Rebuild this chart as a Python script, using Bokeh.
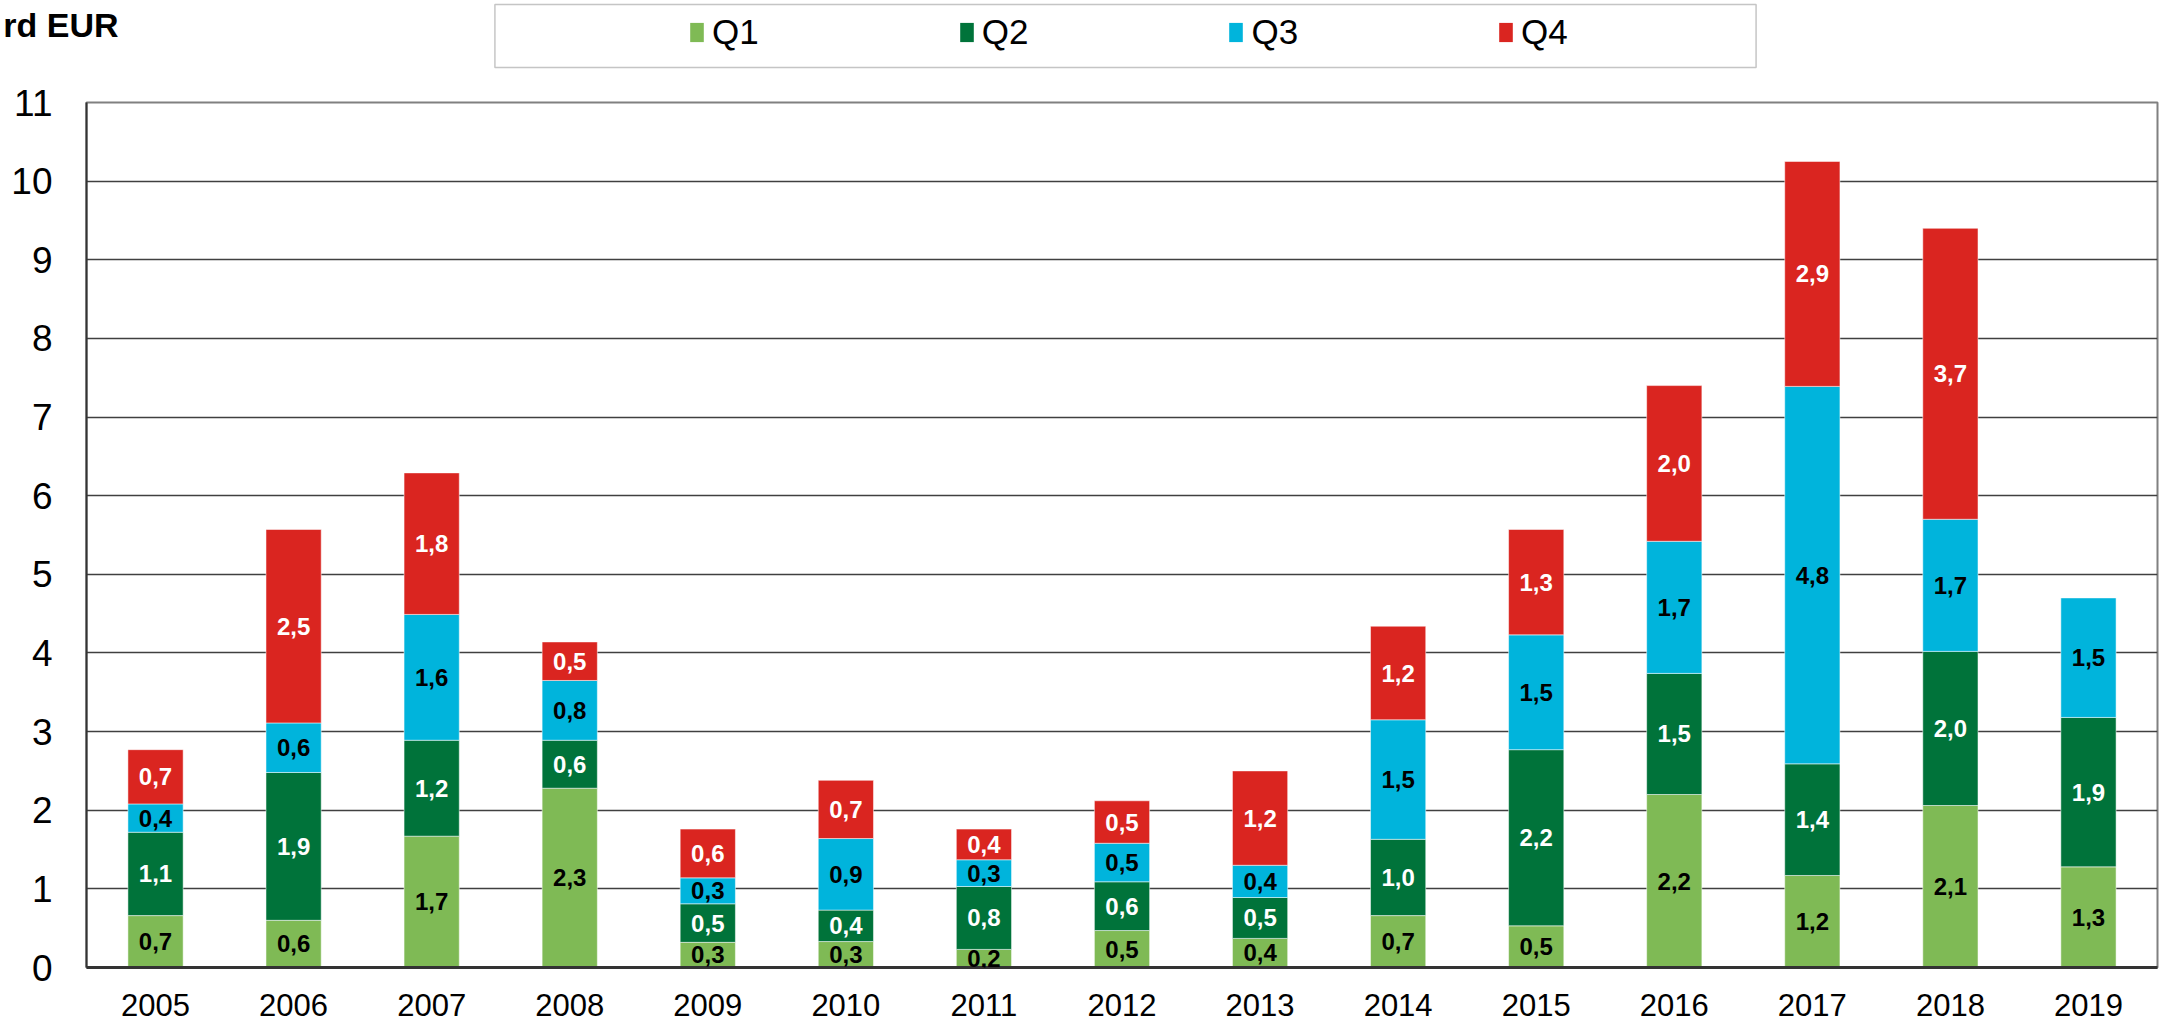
from bokeh.plotting import figure
from bokeh.layouts import column
from bokeh.models import (ColumnDataSource, LabelSet, Legend, LegendItem,
                          BoxAnnotation, FixedTicker, Range1d, FactorRange)
from bokeh.core.properties import value
from bokeh.embed import file_html
from bokeh.resources import INLINE

# ---- data (Mrd EUR per quarter) ----
years = ["2005", "2006", "2007", "2008", "2009", "2010", "2011", "2012",
         "2013", "2014", "2015", "2016", "2017", "2018", "2019"]
q1 = [0.66, 0.60, 1.67, 2.28, 0.32, 0.33, 0.23, 0.47, 0.37, 0.66, 0.53, 2.20, 1.17, 2.06, 1.28]
q2 = [1.06, 1.88, 1.22, 0.61, 0.49, 0.40, 0.80, 0.62, 0.52, 0.97, 2.24, 1.54, 1.42, 1.96, 1.90]
q3 = [0.36, 0.63, 1.60, 0.76, 0.33, 0.91, 0.34, 0.49, 0.41, 1.52, 1.46, 1.68, 4.80, 1.68, 1.52]
q4 = [0.69, 2.46, 1.80, 0.49, 0.62, 0.74, 0.39, 0.54, 1.20, 1.19, 1.34, 1.98, 2.86, 3.70, None]
series_names = ["Q1", "Q2", "Q3", "Q4"]
y_ticks = list(range(0, 12))
unit_text = "rd EUR"

colors = ["#7FBA55", "#00733A", "#00B4DC", "#DA2520"]
label_colors = ["black", "white", "black", "white"]
FONT = "Liberation Sans"

W, H = 2165, 1021
HEAD_H = 72
CHART_H = H - HEAD_H
F_LEFT, F_RIGHT = 83, 2157      # plot frame edges (page px)

# ---------------- header (unit title + legend) ----------------
head = figure(width=W, height=HEAD_H, x_range=Range1d(F_LEFT, F_RIGHT),
              y_range=Range1d(0, HEAD_H),
              output_backend="svg", toolbar_location=None,
              x_axis_location=None, y_axis_location="left",
              min_border_left=F_LEFT, min_border_right=W - F_RIGHT,
              min_border_top=0, min_border_bottom=0)
head.outline_line_color = None
head.grid.visible = False
head.background_fill_alpha = 0
# unit text carried by the header's own left axis
head.yaxis.ticker = FixedTicker(ticks=[58])
head.yaxis.major_label_overrides = {58: unit_text}
head.yaxis.major_label_text_font = FONT
head.yaxis.major_label_text_font_style = "bold"
head.yaxis.major_label_text_font_size = "34px"
head.yaxis.major_label_text_color = "black"
head.yaxis.major_label_standoff = -32
head.yaxis.major_tick_out = 0
head.yaxis.major_tick_in = 0
head.yaxis.major_tick_line_color = None
head.yaxis.minor_tick_line_color = None
head.yaxis.axis_line_color = None

head.add_layout(BoxAnnotation(left=492, right=1755, top=HEAD_H - 4, bottom=HEAD_H - 67,
                              fill_color="white", fill_alpha=1.0,
                              line_color="#404040", line_width=1.5))

items = []
for name, col in zip(series_names, colors):
    r = head.vbar(x=[-1000], bottom=[-1001], top=[-1000], width=1,
                  fill_color=col, line_color=None)
    items.append(LegendItem(label=name, renderers=[r]))
legend = Legend(items=items, orientation="horizontal",
                location=(687 - 2 - F_LEFT, 20),
                padding=0, spacing=199, label_standoff=7,
                glyph_width=17, glyph_height=24, margin=0,
                label_text_font=FONT, label_text_font_size="35px",
                label_text_color="black",
                border_line_alpha=0, background_fill_alpha=0)
head.add_layout(legend, "center")

# ---------------- chart ----------------
p = figure(x_range=FactorRange(*years), y_range=Range1d(0, 11),
           width=W, height=CHART_H, output_backend="svg", toolbar_location=None,
           min_border_left=F_LEFT, min_border_right=W - F_RIGHT,
           min_border_top=102 - HEAD_H, min_border_bottom=H - 967)

bottoms = [0.0] * len(years)
for name, vals, col, lc in zip(series_names, [q1, q2, q3, q4], colors, label_colors):
    xs, b, t, mid, txt = [], [], [], [], []
    for i, v in enumerate(vals):
        if v is None:
            continue
        xs.append(years[i])
        b.append(bottoms[i])
        t.append(bottoms[i] + v)
        mid.append(bottoms[i] + v / 2)
        txt.append(f"{v:.1f}".replace(".", ","))
        bottoms[i] += v
    src = ColumnDataSource(dict(x=xs, bottom=b, top=t, mid=mid, txt=txt))
    p.vbar(x="x", bottom="bottom", top="top", width=0.4, source=src,
           fill_color=col, line_color="white", line_alpha=0.5, line_width=1)
    p.add_layout(LabelSet(x="x", y="mid", text="txt", source=src,
                          text_align="center", text_baseline="middle",
                          text_color=lc, text_font=value(FONT),
                          text_font_style="bold", text_font_size="24px"))

p.yaxis.ticker = FixedTicker(ticks=y_ticks)
p.yaxis.major_label_text_font = FONT
p.yaxis.major_label_text_font_size = "37px"
p.yaxis.major_label_text_color = "black"
p.yaxis.major_tick_line_color = None
p.yaxis.minor_tick_line_color = None
p.yaxis.major_tick_out = 0
p.yaxis.major_label_standoff = 34
p.yaxis.axis_line_color = "#333333"
p.yaxis.axis_line_width = 2

p.xaxis.major_label_text_font = FONT
p.xaxis.major_label_text_font_size = "31px"
p.xaxis.major_label_text_color = "black"
p.xaxis.major_tick_line_color = None
p.xaxis.major_label_standoff = 20
p.xaxis.axis_line_color = "#333333"
p.xaxis.axis_line_width = 3

p.xgrid.grid_line_color = None
p.ygrid.grid_line_color = "#404040"
p.ygrid.grid_line_width = 1.5
p.outline_line_color = "#808080"
p.outline_line_width = 2
p.background_fill_color = "white"
p.border_fill_color = "white"

layout = column(head, p, spacing=0)
open("out.html", "w").write(file_html(layout, INLINE))
